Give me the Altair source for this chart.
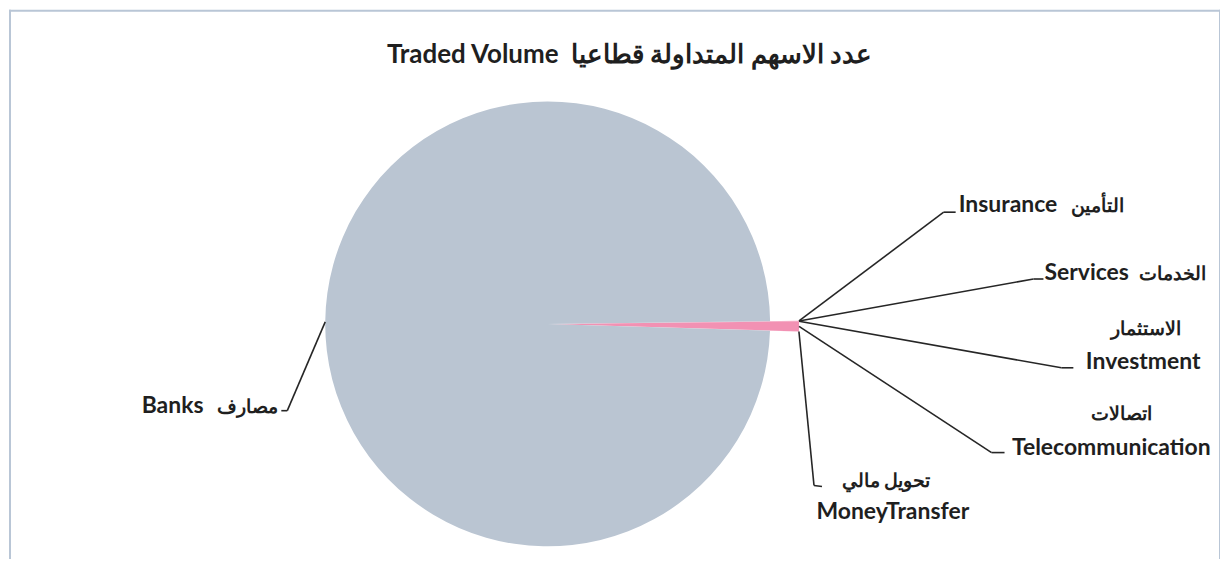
import math
import altair as alt
import pandas as pd

# ---------------- data ----------------
sectors = ["Insurance", "Services", "Investment", "Telecommunication", "MoneyTransfer", "Banks"]
sectors_ar = ["التأمين", "الخدمات", "الاستثمار", "اتصالات", "تحويل مالي", "مصارف"]
volume_share = [0.01, 0.01, 0.01, 0.64, 0.01, 99.32]
slice_colors = ["#f291b3", "#f291b3", "#f291b3", "#f291b3", "#f291b3", "#bac5d2"]

title_en = "Traded Volume"
title_ar = "عدد الاسهم المتداولة قطاعيا"

# ---------------- layout (page px; chart origin is at page 8,8) ----------------
OFF = 8
CX, CY = 548 - OFF, 323 - OFF
R_MAIN = 223
R_SMALL = 252
START_DEG = 89.3
FONT = "Lato"
EN_SIZE = 23
AR_SIZE = 19
TEXT_COLOR = "#1f1f1f"
LINE_COLOR = "#262626"

# elbow of each leader line and the end of its short horizontal tick
leader = {
    "Insurance": ((945, 211), (957, 211)),
    "Services": ((1035, 278), (1045, 278)),
    "Investment": ((1063, 367), (1075, 367)),
    "Telecommunication": ((993, 452), (1006, 452)),
    "MoneyTransfer": ((815, 485), (823, 486)),
    "Banks": ((287, 410), (281, 410)),
}
# label lines: (kind, x, y_baseline, align)
label_lines = {
    "Insurance": [("en", 960, 211, "left"), ("ar", 1126, 211, "right")],
    "Services": [("en", 1046, 279, "left"), ("ar", 1208, 279, "right")],
    "Investment": [("ar", 1148, 334, "center"), ("en", 1145, 368, "center")],
    "Telecommunication": [("ar", 1123, 419, "center"), ("en", 1113, 454, "center")],
    "MoneyTransfer": [("ar", 887, 487, "center"), ("en", 894, 519, "center")],
    "Banks": [("en", 141, 412, "left"), ("ar", 278, 412, "right")],
}

# ---------------- tables ----------------
pie_df = pd.DataFrame({
    "sector": sectors,
    "sector_ar": sectors_ar,
    "share": volume_share,
    "order": list(range(len(sectors))),
})

lead_rows = []
for s in sectors:
    (ex, ey), (tx, ty) = leader[s]
    lead_rows.append({"sector": s, "ex": ex - OFF, "ey": ey - OFF, "tx": tx - OFF, "ty": ty - OFF})
lead_df = pd.DataFrame(lead_rows)

text_rows = []
for s, a in zip(sectors, sectors_ar):
    for kind, x, y, align in label_lines[s]:
        txt = s if kind == "en" else a
        text_rows.append({"txt": txt, "kind": kind, "x": x - OFF, "y": y - OFF, "align": align})
text_df = pd.DataFrame(text_rows)

start_rad = math.radians(START_DEG)
two_pi = 2 * math.pi

base = alt.Chart(pie_df).transform_joinaggregate(
    total="sum(share)"
).transform_window(
    cum="sum(share)", sort=[alt.SortField("order")], frame=[None, 0]
).transform_calculate(
    a0=f"{start_rad} + {two_pi} * (datum.cum - datum.share) / datum.total",
    a1=f"{start_rad} + {two_pi} * datum.cum / datum.total",
    r=f"datum.sector == 'Banks' ? {R_MAIN} : {R_SMALL}",
)

pie = base.mark_arc(stroke=None).encode(
    theta=alt.Theta("a0:Q", scale=None),
    theta2="a1:Q",
    radius=alt.Radius("r:Q", scale=None),
    color=alt.Color("sector:N", scale=alt.Scale(domain=sectors, range=slice_colors), legend=None),
    x=alt.value(CX),
    y=alt.value(CY),
)

lead_base = base.transform_lookup(
    lookup="sector",
    from_=alt.LookupData(lead_df, "sector", ["ex", "ey", "tx", "ty"]),
).transform_calculate(
    mid="(datum.a0 + datum.a1) / 2",
).transform_calculate(
    sx=f"{CX} + datum.r * sin(datum.mid)",
    sy=f"{CY} - datum.r * cos(datum.mid)",
)

leader_lines = lead_base.mark_rule(color=LINE_COLOR, strokeWidth=1.6).encode(
    x=alt.X("sx:Q", scale=None, axis=None),
    y=alt.Y("sy:Q", scale=None, axis=None),
    x2="ex:Q",
    y2="ey:Q",
)
leader_ticks = lead_base.mark_rule(color=LINE_COLOR, strokeWidth=1.6).encode(
    x=alt.X("ex:Q", scale=None, axis=None),
    y=alt.Y("ey:Q", scale=None, axis=None),
    x2="tx:Q",
    y2="ty:Q",
)

def text_layer(align, kind):
    return alt.Chart(text_df).transform_filter(
        (alt.datum.align == align) & (alt.datum.kind == kind)
    ).mark_text(
        align=align, baseline="alphabetic", font=FONT,
        fontSize=EN_SIZE if kind == "en" else AR_SIZE,
        fontWeight="bold", color=TEXT_COLOR,
    ).encode(
        x=alt.X("x:Q", scale=None, axis=None),
        y=alt.Y("y:Q", scale=None, axis=None),
        text="txt:N",
    )

text_layers = [text_layer(al, k) for al in ("left", "center", "right") for k in ("en", "ar")]

title_df = pd.DataFrame({"txt": [title_en + "\u00a0\u00a0" + title_ar]})
title = alt.Chart(title_df).mark_text(
    align="center", baseline="alphabetic", font=FONT, fontSize=26,
    fontWeight="bold", color=TEXT_COLOR,
).encode(
    x=alt.value(630 - OFF), y=alt.value(61 - OFF), text="txt:N",
)

frame_df = pd.DataFrame({"k": [0]})
frame_color = "#b9c6d6"
frame_left = alt.Chart(frame_df).mark_rule(color=frame_color, strokeWidth=2).encode(
    x=alt.value(1), x2=alt.value(1), y=alt.value(0), y2=alt.value(551))
frame_top = alt.Chart(frame_df).mark_rule(color=frame_color, strokeWidth=2).encode(
    x=alt.value(0), x2=alt.value(1215), y=alt.value(1), y2=alt.value(1))
frame_right = alt.Chart(frame_df).mark_rule(color=frame_color, strokeWidth=2).encode(
    x=alt.value(1214), x2=alt.value(1214), y=alt.value(0), y2=alt.value(551))

chart = alt.layer(
    frame_left, frame_top, frame_right,
    pie, leader_lines, leader_ticks,
    *text_layers,
    title,
).properties(
    width=1215, height=551, padding=0,
    autosize=alt.AutoSizeParams(type="fit", contains="padding"),
    background="white",
).configure_view(stroke=None)

chart.save("out.html", embed_options={"renderer": "svg", "actions": False})
